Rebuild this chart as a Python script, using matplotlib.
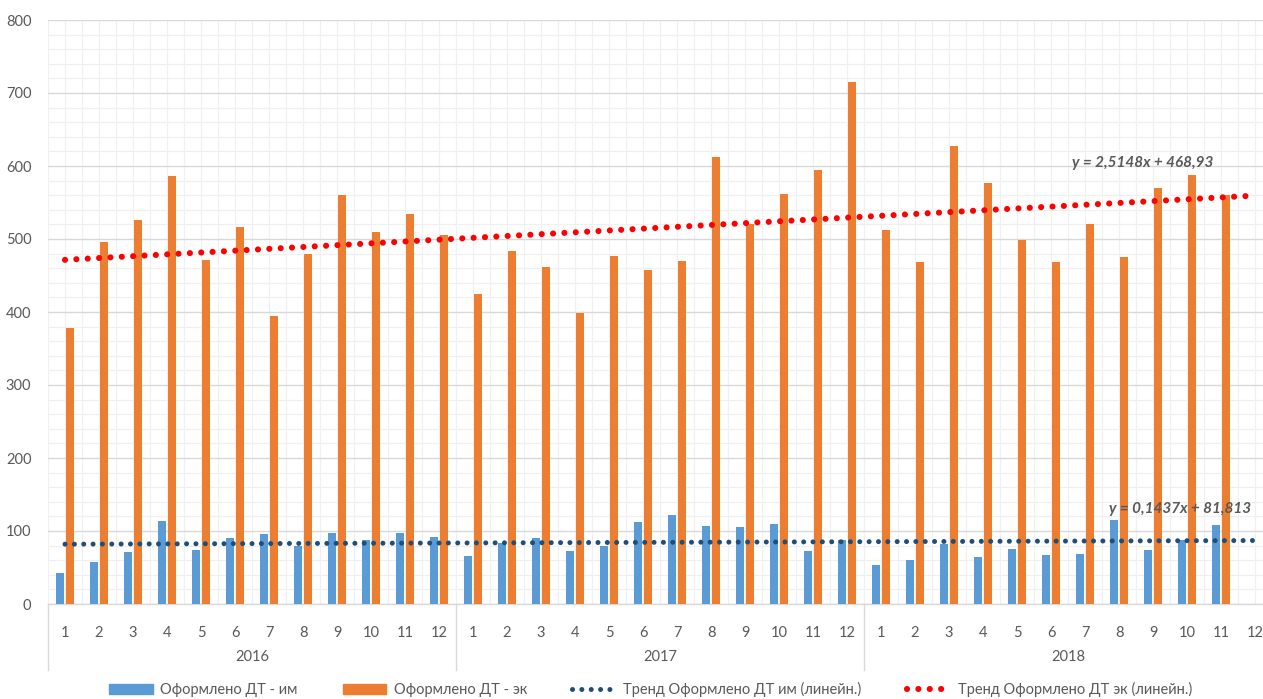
import matplotlib
matplotlib.use("Agg")
import matplotlib.pyplot as plt
import matplotlib.transforms as mtransforms
from matplotlib.lines import Line2D
from matplotlib.patches import Patch
import numpy as np

plt.rcParams['font.family'] = ['Lato', 'DejaVu Sans']

years = ["2016", "2017", "2018"]
months = [str(m) for m in range(1, 13)]

import_vals = [43, 57, 71, 114, 74, 91, 96, 79, 97, 87, 97, 92,
               66, 83, 91, 72, 80, 112, 122, 107, 105, 109, 72, 87,
               53, 60, 82, 65, 75, 67, 69, 115, 74, 87, 108, np.nan]
export_vals = [378, 496, 526, 586, 471, 517, 395, 479, 560, 510, 534, 505,
               424, 483, 461, 399, 477, 457, 470, 612, 520, 562, 595, 715,
               512, 469, 627, 577, 498, 469, 521, 475, 570, 587, 560, np.nan]

trend_im = (0.1437, 81.813)
trend_ek = (2.5148, 468.93)
label_im = "y = 0,1437x + 81,813"
label_ek = "y = 2,5148x + 468,93"

series_names = ["Оформлено ДТ - им", "Оформлено ДТ - эк",
                "Тренд Оформлено ДТ им (линейн.)", "Тренд Оформлено ДТ эк (линейн.)"]

c_blue = "#5B9BD5"
c_orange = "#ED7D31"
c_navy = "#1F4E79"
c_red = "#FF0000"
c_text = "#595959"

W, H = 1263, 699
fig = plt.figure(figsize=(W / 100, H / 100), dpi=100)
n = len(import_vals)
left_px, right_px, top_px, bot_px = 48, 48 + 34 * n, 20, 604
ax = fig.add_axes([left_px / W, 1 - bot_px / H, (right_px - left_px) / W, (bot_px - top_px) / H])

x = np.arange(n)
bw = 0.24
ax.bar(x - 0.145, import_vals, width=bw, color=c_blue, zorder=3)
ax.bar(x + 0.145, export_vals, width=bw, color=c_orange, zorder=3)

xt = np.arange(1, n + 1)
ax.plot(x, trend_im[0] * xt + trend_im[1], color=c_navy, lw=3.6,
        linestyle=(0, (0.01, 1.86)), dash_capstyle='round', zorder=4)
ax.plot(x, trend_ek[0] * xt + trend_ek[1], color=c_red, lw=4.4,
        linestyle=(0, (0.01, 1.85)), dash_capstyle='round', zorder=4)

ax.text(31.7, 604, label_ek, ha='center', va='center', fontsize=11,
        style='italic', fontweight='bold', color=c_text, zorder=5)
ax.text(32.8, 130, label_im, ha='center', va='center', fontsize=11,
        style='italic', fontweight='bold', color=c_text, zorder=5)

ax.set_xlim(-0.5, n - 0.5)
ax.set_ylim(0, 800)
ax.set_yticks(np.arange(0, 801, 100))
ax.set_yticks(np.arange(0, 801, 20), minor=True)
ax.set_xticks(x)
ax.set_xticks(np.arange(-0.5, n, 0.5), minor=True)
ax.set_xticklabels(months * len(years))
ax.tick_params(axis='both', which='both', length=0, colors=c_text, labelsize=10.5)
ax.tick_params(axis='x', pad=16)
ax.tick_params(axis='y', pad=12)

ax.grid(which='minor', color='#F0F0F0', lw=0.9, zorder=0)
ax.grid(which='major', axis='y', color='#D9D9D9', lw=1.0, zorder=1)
ax.grid(which='major', axis='x', color='#F0F0F0', lw=0.9, zorder=0)
for s in ['top', 'right', 'left']:
    ax.spines[s].set_visible(False)
ax.spines['bottom'].set_color('#D9D9D9')
ax.spines['bottom'].set_linewidth(1.0)

trans = mtransforms.blended_transform_factory(ax.transData, ax.transAxes)
ax_h = (bot_px - top_px)
for k in range(len(years) + 1):
    xb = k * 12 - 0.5
    ax.add_line(Line2D([xb, xb], [0, -66 / ax_h], transform=trans, color='#D9D9D9',
                       lw=1.0, clip_on=False))
for k, yr in enumerate(years):
    ax.text(k * 12 + 5.5, -53 / ax_h, yr, transform=trans, ha='center', va='center',
            fontsize=10.5, color=c_text)

handles = [Patch(color=c_blue), Patch(color=c_orange),
           Line2D([], [], color=c_navy, lw=3.6, linestyle=(0, (0.01, 1.86)), dash_capstyle='round'),
           Line2D([], [], color=c_red, lw=4.4, linestyle=(0, (0.01, 1.85)), dash_capstyle='round')]
fig.legend(handles, series_names, loc='center', bbox_to_anchor=(0.515, 9.5 / H), ncol=4,
           frameon=False, fontsize=10.5, labelcolor=c_text, handlelength=3.0, handleheight=0.7,
           columnspacing=3.1, handletextpad=0.5)

fig.savefig("out.png", dpi=100, facecolor='white')
